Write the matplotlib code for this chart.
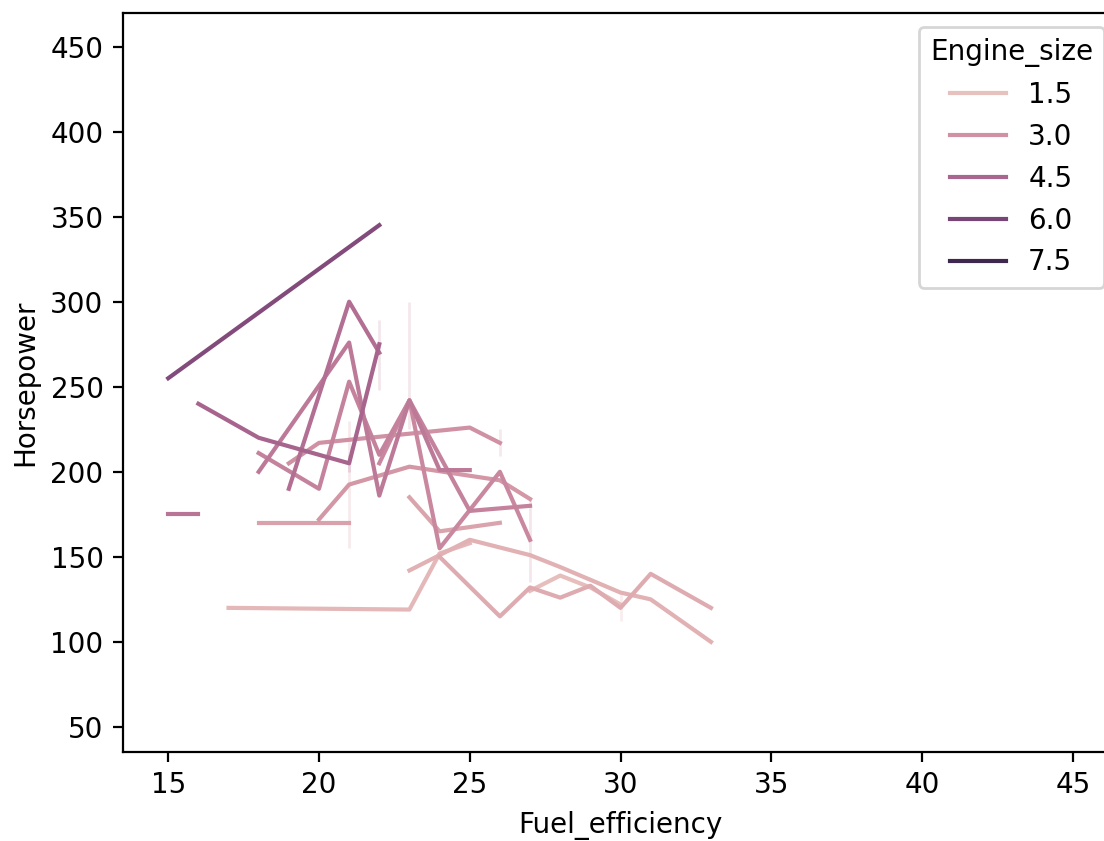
import numpy as np
import pandas as pd
import matplotlib
matplotlib.use("Agg")
import matplotlib.pyplot as plt
import seaborn as sns

# one row per car: engine size (litres), fuel efficiency (mpg), horsepower
engine_size = [
    1.0,
    8.0,
    5.7, 5.7,
    4.6, 4.6, 4.6, 4.6, 4.6,
    4.0, 4.0,
    4.2, 4.2, 4.2,
    3.8, 3.8, 3.8, 3.8, 3.8, 3.8,
    3.5, 3.5, 3.5, 3.5, 3.5, 3.5, 3.5,
    3.4, 3.4,
    3.2, 3.2,
    3.3, 3.3, 3.3, 3.3, 3.3, 3.3,
    3.0, 3.0, 3.0, 3.0, 3.0,
    2.8, 2.8, 2.8, 2.8, 2.8, 2.8,
    2.5, 2.5,
    2.4, 2.4, 2.4,
    2.2, 2.2, 2.2, 2.2, 2.2, 2.2, 2.2, 2.2, 2.2,
    2.0, 2.0, 2.0, 2.0, 2.0, 2.0, 2.0,
    1.8, 1.8, 1.8, 1.8,
    1.6, 1.6, 1.6, 1.6,
]
fuel_efficiency = [
    45,
    16,
    15, 22,
    16, 18, 21, 21, 22,
    15, 16,
    19, 21, 22,
    18, 21, 22, 23, 24, 25,
    18, 20, 21, 22, 23, 25, 27,
    22, 22,
    23, 23,
    22, 23, 24, 26, 27, 27,
    19, 20, 25, 26, 26,
    20, 21, 21, 23, 26, 27,
    18, 21,
    23, 24, 26,
    24, 26, 27, 28, 29, 30, 30, 31, 33,
    23, 25, 27, 28, 30, 31, 33,
    17, 23, 24, 25,
    27, 28, 29, 30,
]
horsepower = [
    55,
    450,
    255, 345,
    240, 220, 200, 210, 275,
    175, 175,
    190, 300, 270,
    200, 276, 186, 242, 201, 201,
    211, 190, 253, 210, 242, 177, 180,
    248, 289,
    225, 300,
    205, 242, 155, 200, 135, 185,
    205, 217, 226, 209, 225,
    172, 155, 230, 203, 195, 184,
    170, 170,
    185, 165, 170,
    150, 115, 132, 126, 133, 112, 128, 140, 120,
    142, 160, 151, 144, 129, 125, 100,
    120, 119, 152, 158,
    130, 139, 132, 122,
]

cars = pd.DataFrame({
    "Engine_size": engine_size,
    "Fuel_efficiency": fuel_efficiency,
    "Horsepower": horsepower,
})

fig = plt.figure(figsize=(5.52, 4.205), dpi=200)
ax = fig.add_axes([123 / 1104, 89 / 841, 995 / 1104, 739 / 841])

sns.lineplot(data=cars, x="Fuel_efficiency", y="Horsepower",
             hue="Engine_size", seed=0, ax=ax)
sns.move_legend(ax, "upper right")

fig.savefig("out.png", dpi=200)
